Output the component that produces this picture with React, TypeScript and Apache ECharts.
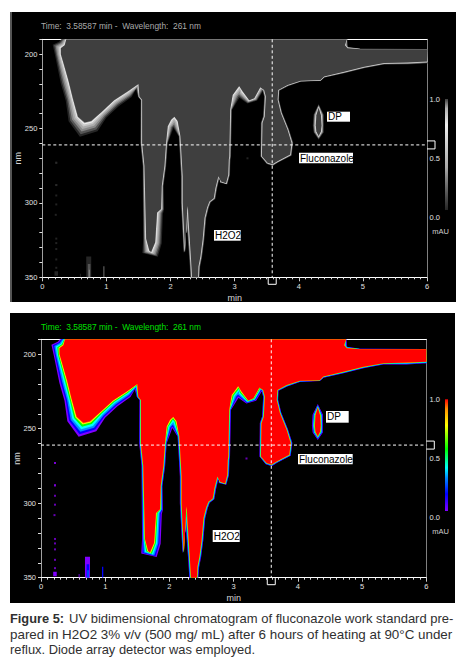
import React, { useEffect, useRef } from "react";
import * as echarts from "echarts";

// [min, nm, signal spread in nm]
const mainContour = [
  [0.375,190,4],[0.35,194,4.5],[0.29,196,6],[0.29,200,4],[0.33,206,4.5],[0.41,218,5.5],[0.478,230,5],[0.556,242,7],
  [0.66,246,10],[0.763,245,8],[0.92,239,5],[1.12,231,5],[1.335,225,4.5],[1.5,220,4],
  [1.515,228.5,1],[1.557,230.7,1],[1.557,259.7,1.2],[1.593,275,1.2],[1.62,324,2],[1.67,332,5],[1.697,333,5.5],
  [1.76,326.5,4.5],[1.79,306.5,4],[1.853,304,2],[1.863,288.6,1.2],[1.905,275,1.2],[1.93,259.7,1.2],[1.956,248.5,4],
  [2.008,244,6],[2.06,242,6.5],[2.112,245,5],[2.154,255,1.2],[2.164,262,1.2],[2.19,282,1.2],[2.19,300,1.2],
  [2.227,333,1.2],[2.26,304.7,1.2],[2.27,302,1.2],[2.28,311,1.5],[2.32,338,1.2],[2.336,350,1.2],[2.43,350,1],
  [2.435,342.8,1.2],[2.466,336,1.2],[2.5,324.8,1.2],[2.53,310,1.2],[2.57,303,1.2],[2.606,299,1.2],[2.674,296.8,1.2],
  [2.7,290,1.2],[2.746,282,1.2],[2.788,285.6,1.2],[2.866,286.8,1.2],[2.9,281,1.2],[2.908,271,1.2],
  [2.916,268.6,1.2],[2.93,237.4,1.2],[2.968,227.4,5],[3.07,221.4,6.5],[3.124,225,5],[3.228,231,2.5],[3.306,229.6,2.5],
  [3.4,222.3,3],[3.46,224,1.2],[3.487,228.5,1.2],[3.47,241.9,1.2],[3.435,246.3,1.2],[3.425,268.6,1],[3.513,273,1],
  [3.59,274,1.2],[3.669,272,1],[3.866,267.5,1.2],[3.887,259.7,1.2],[3.825,250.8,1],[3.72,239.6,1],[3.67,230.7,1],
  [3.68,224,1],[3.825,220.7,1],[4.03,217.8,0.8],[4.34,217.4,0.6],[4.395,215,0.8],[4.707,211.8,1],[5.018,208.5,1],
  [5.33,206,1],[5.69,205.6,1.3],[6,205,1.3],[6,196.7,0.2],[4.966,196.7,0.4],[4.76,196,1],[4.72,194,2],[4.75,190,2],
];
const dpContour = [
  [4.31,236,2.5],[4.345,241,2],[4.355,248,1.5],[4.345,252,2],[4.31,255,2.5],[4.275,252,2],[4.265,248,2],[4.275,241,2],
];
const contours = [mainContour, dpContour];

const speckMinutes = [0.218,0.218,0.218,0.218,0.21,0.218,0.218,0.218,0.218,0.218,0.218,0.218,3.2];
const speckNm = [273,288,295,301,308,324,327,331,338,343.6,273,288,270];

// [min start, min end, nm top, nm bottom, level]
const traces = [
  [0.19,0.245,346,349,0],[0.587,0.6,347.6,350,0],[0.685,0.763,336,350,0],[0.71,0.75,341,350,1],[0.725,0.74,345,350,2],
  [0.95,0.97,342.6,350,1],
];

const cursorMin = 3.58587;
const cursorNm = 261;
const wavelengthTicks = [200,250,300,350];
const timeTicks = [0,1,2,3,4,5,6];
const colorScaleValue = [1];

const fractions = [1,0.82,0.64,0.46,0.28,0.13,0.05];
const rainbow = ["#8000ff","#0000ff","#0090ff","#00ffff","#00ff00","#ffff00","#ff9000","#ff0000"];
const greys = ["#262626","#555555","#888888","#aaaaaa","#c8c8c8","#eeeeee","#b0b0b0","#3f3f3f"];

const offsetPolygon = (pts: number[][], widths: number[], f: number) => {
  let area = 0;
  const n = pts.length;
  for (let i = 0; i < n; i++) {
    const a = pts[i], b = pts[(i + 1) % n];
    area += a[0] * b[1] - b[0] * a[1];
  }
  const s = area > 0 ? 1 : -1;
  return pts.map((p, i) => {
    const a = pts[(i - 1 + n) % n], b = pts[(i + 1) % n];
    const dx = b[0] - a[0], dy = b[1] - a[1];
    const l = Math.hypot(dx, dy) || 1;
    return [p[0] + (s * dy / l) * widths[i] * f, p[1] - (s * dx / l) * widths[i] * f];
  });
};

const contourSeries = (panel: number, ramp: string[]) => ({
  type: "custom", coordinateSystem: "cartesian2d", xAxisIndex: panel * 2, yAxisIndex: panel * 2, clip: true, z: 3,
  data: contours.map((c, i) => [c[0][0], c[0][1], i]),
  encode: { x: 0, y: 1 },
  renderItem: (_: any, api: any) => {
    const contour = contours[api.value(2)];
    const pts = contour.map((v) => api.coord([v[0], v[1]]));
    const widths = contour.map((v) => api.size([0, v[2]])[1]);
    const children: any[] = fractions.map((f, k) => ({
      type: "polygon", shape: { points: offsetPolygon(pts, widths, f) }, style: { fill: ramp[k] },
    }));
    children.push({ type: "polygon", shape: { points: pts }, style: { fill: ramp[7] } });
    return { type: "group", children };
  },
});

const traceSeries = (panel: number, ramp: string[]) => ({
  type: "custom", coordinateSystem: "cartesian2d", xAxisIndex: panel * 2, yAxisIndex: panel * 2, clip: true, z: 3,
  data: traces,
  encode: { x: 0, y: 2 },
  renderItem: (_: any, api: any) => {
    const a = api.coord([api.value(0), api.value(2)]);
    const b = api.coord([api.value(1), api.value(3)]);
    return { type: "rect", shape: { x: a[0], y: a[1], width: b[0] - a[0], height: b[1] - a[1] }, style: { fill: ramp[api.value(4)] } };
  },
});

const speckSeries = (panel: number, color: string) => ({
  type: "scatter", xAxisIndex: panel * 2, yAxisIndex: panel * 2, symbol: "rect", symbolSize: [2, 2], z: 3,
  itemStyle: { color }, silent: true,
  data: speckMinutes.map((t, i) => [t, speckNm[i]]),
});

const cursorSeries = (panel: number) => ({
  type: "custom", coordinateSystem: "cartesian2d", xAxisIndex: panel * 2, yAxisIndex: panel * 2, clip: false, z: 5,
  data: [[cursorMin, cursorNm]],
  encode: { x: 0, y: 1 },
  renderItem: (_: any, api: any) => {
    const t = api.value(0), w = api.value(1);
    const top = api.coord([t, 190]), bot = api.coord([t, 350]);
    const left = api.coord([0, w]), right = api.coord([6, w]);
    const dash = { stroke: "#fff", lineWidth: 1, lineDash: [3, 2.5] };
    const solid = { stroke: "#fff", lineWidth: 1, fill: "none" };
    return {
      type: "group",
      children: [
        { type: "line", shape: { x1: top[0], y1: top[1], x2: bot[0], y2: bot[1] }, style: dash },
        { type: "line", shape: { x1: left[0], y1: left[1], x2: right[0], y2: right[1] }, style: dash },
        { type: "polyline", shape: { points: [[right[0], right[1] - 4], [right[0] + 8, right[1] - 4], [right[0] + 8, right[1] + 4], [right[0], right[1] + 4]] }, style: solid },
        { type: "polyline", shape: { points: [[bot[0] - 4, bot[1]], [bot[0] - 4, bot[1] + 7], [bot[0] + 4, bot[1] + 7], [bot[0] + 4, bot[1]]] }, style: solid },
      ],
    };
  },
});

const tickFont = { fontFamily: "Liberation Sans", fontSize: 7.5, color: "#e0e0e0" };

const makeXAxes = (grid: number) => [
  {
    type: "value", gridIndex: grid, min: 0, max: 6, interval: 1, position: "bottom",
    axisLine: { onZero: false, lineStyle: { color: "#fff", width: 1 } },
    axisTick: { length: 4, lineStyle: { color: "#ccc" } },
    minorTick: { show: true, splitNumber: 10, length: 2, lineStyle: { color: "#ddd" } },
    axisLabel: { ...tickFont, margin: 5, customValues: timeTicks, formatter: (v: number) => String(v) },
    splitLine: { show: false }, minorSplitLine: { show: false },
    name: "min", nameLocation: "middle", nameGap: 16, nameMoveOverlap: false,
    nameTextStyle: { fontFamily: "Liberation Sans", fontSize: 9, color: "#d8d8d8" },
  },
  {
    type: "value", gridIndex: grid, min: 0, max: 6, position: "top",
    axisLine: { onZero: false, lineStyle: { color: "#fff", width: 1 } },
    axisTick: { show: false }, axisLabel: { show: false }, splitLine: { show: false },
  },
];

const makeYAxes = (grid: number) => [
  {
    type: "value", gridIndex: grid, min: 190, max: 350, interval: 10, inverse: true, position: "left",
    axisLine: { onZero: false, lineStyle: { color: "#a0a0a0", width: 1 } },
    axisTick: { length: 3, lineStyle: { color: "#ddd" } },
    axisLabel: { ...tickFont, margin: 5, customValues: wavelengthTicks, formatter: (v: number) => String(v) },
    splitLine: { show: false },
    name: "nm", nameLocation: "middle", nameGap: 20, nameRotate: 90, nameMoveOverlap: false,
    nameTextStyle: { fontFamily: "Liberation Sans", fontSize: 9, color: "#d8d8d8" },
  },
  {
    type: "value", gridIndex: grid, min: 190, max: 350, inverse: true, position: "right",
    axisLine: { onZero: false, lineStyle: { color: "#808080", width: 1 } },
    axisTick: { show: false }, axisLabel: { show: false }, splitLine: { show: false },
  },
];

const scaleAxes = (grid: number) => ({
  x: { type: "category", gridIndex: grid, data: ["mAU"], show: false },
  y: {
    type: "value", gridIndex: grid, min: 0, max: 1, interval: 0.5, position: "right",
    axisLine: { onZero: false, lineStyle: { color: "#fff", width: 1 } },
    axisTick: { inside: true, length: 6, lineStyle: { color: "#ddd" } },
    axisLabel: { ...tickFont, inside: true, margin: 8, formatter: (v: number) => v.toFixed(1) },
    splitLine: { show: false },
    name: "mAU", nameLocation: "start", nameGap: 10, nameMoveOverlap: false,
    nameTextStyle: { fontFamily: "Liberation Sans", fontSize: 7.5, color: "#d0d0d0", align: "right", padding: [0, -1, 0, 0] },
  },
});

const scaleSeries = (axis: number, ramp: string[]) => ({
  type: "bar", xAxisIndex: axis, yAxisIndex: axis, barWidth: 3, z: 6, silent: true,
  data: colorScaleValue,
  itemStyle: {
    color: new echarts.graphic.LinearGradient(0, 0, 0, 1, [
      { offset: 0, color: ramp[7] }, { offset: 0.08, color: ramp[6] }, { offset: 0.22, color: ramp[5] },
      { offset: 0.42, color: ramp[4] }, { offset: 0.58, color: ramp[3] }, { offset: 0.66, color: ramp[2] },
      { offset: 0.8, color: ramp[1] }, { offset: 0.94, color: ramp[0] }, { offset: 0.945, color: "#000" }, { offset: 1, color: "#000" },
    ]),
  },
});

const box = (x: number, y: number, w: number, h: number, text: string) => ([
  { type: "rect", shape: { x, y, width: w, height: h }, style: { fill: "#fff" }, z: 20 },
  { type: "text", x: x + 1, y: y + h / 2, z: 21, style: { text, fill: "#000", font: "10px 'Liberation Sans'", verticalAlign: "middle" } },
]);

const caption = (x: number, y: number, text: string, bold = false, size = 13) => ({
  type: "text", x, y, z: 21,
  style: { text, fill: "#303030", font: `${bold ? "bold " : ""}${size}px 'Liberation Sans'`, verticalAlign: "middle" },
});

const header = (y: number, color: string) => ({
  type: "text", x: 41, y, z: 21,
  style: { text: "Time:  3.58587 min -  Wavelength:  261 nm", fill: color, font: "8.4px 'Liberation Sans'", verticalAlign: "middle" },
});

export default function App() {
  const ref = useRef<HTMLDivElement>(null);
  useEffect(() => {
    if (!ref.current) return;
    const chart = echarts.init(ref.current, undefined, { renderer: "svg" });
    const s0 = scaleAxes(2), s1 = scaleAxes(3);
    chart.setOption({
      animation: false,
      backgroundColor: "#fff",
      grid: [
        { left: 42.3, top: 39.3, width: 384.7, height: 238, outerBoundsMode: "none" },
        { left: 41, top: 339.3, width: 385.3, height: 238.4, outerBoundsMode: "none" },
        { left: 445, top: 99, width: 3, height: 118, outerBoundsMode: "none" },
        { left: 445, top: 399.3, width: 3, height: 118.4, outerBoundsMode: "none" },
      ],
      xAxis: [...makeXAxes(0), ...makeXAxes(1), s0.x, s1.x],
      yAxis: [...makeYAxes(0), ...makeYAxes(1), s0.y, s1.y],
      series: [
        contourSeries(0, greys), traceSeries(0, greys), speckSeries(0, "#2c2c2c"), cursorSeries(0),
        contourSeries(1, rainbow), traceSeries(1, rainbow), speckSeries(1, "#8000e0"), cursorSeries(1),
        scaleSeries(4, greys), scaleSeries(5, rainbow),
      ],
      graphic: [
        { type: "rect", shape: { x: 10, y: 12, width: 446, height: 290 }, style: { fill: "#000" }, z: -10 },
        { type: "rect", shape: { x: 10, y: 12, width: 2, height: 290 }, style: { fill: "#555" }, z: -9 },
        { type: "rect", shape: { x: 10, y: 313, width: 445, height: 290 }, style: { fill: "#000" }, z: -10 },
        header(26.3, "#aaaaaa"), header(326.7, "#00e000"),
        ...box(327, 111.7, 23, 10, "DP"), ...box(299, 152.7, 54, 10.6, "Fluconazole"), ...box(214, 230, 26.7, 10.7, "H2O2"),
        ...box(326, 411, 22.7, 11.7, "DP"), ...box(298, 454, 54.7, 10.3, "Fluconazole"), ...box(212.7, 530, 27, 12, "H2O2"),
        caption(10, 618, "Figure 5:", true, 12.8),
        caption(69, 618, "UV bidimensional chromatogram of fluconazole work standard pre-", false, 13),
        caption(10, 634.6, "pared in H2O2 3% v/v (500 mg/ mL) after 6 hours of heating at 90°C under", false, 13.4),
        caption(10, 649.6, "reflux. Diode array detector was employed.", false, 12.9),
      ],
    });
    return () => chart.dispose();
  }, []);
  return <div ref={ref} style={{ position: "absolute", left: 0, top: 0, width: 463, height: 662 }} />;
}
